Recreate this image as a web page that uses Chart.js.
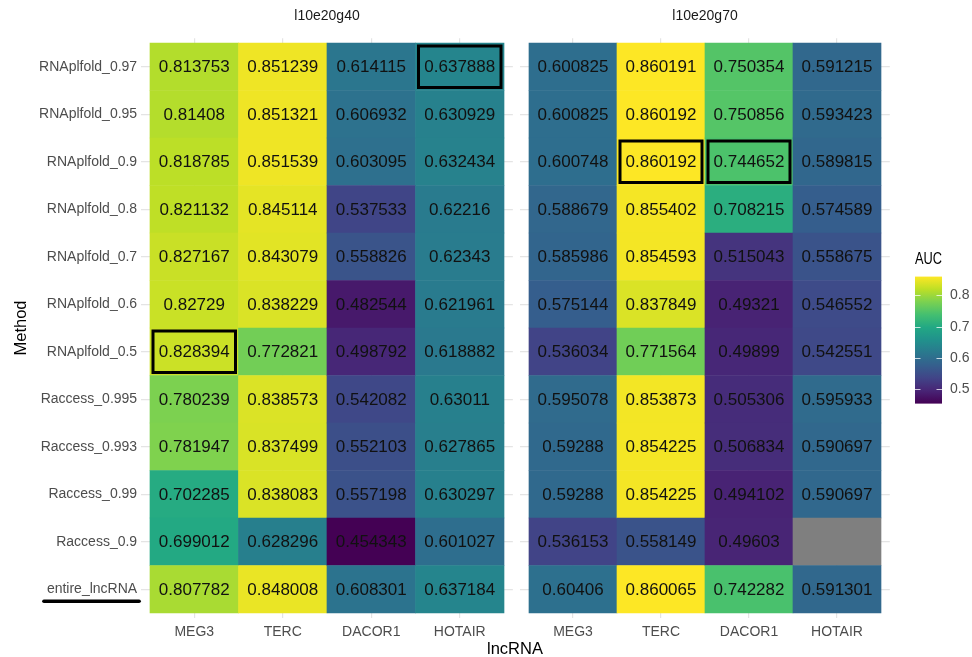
<!DOCTYPE html>
<html>
<head>
<meta charset="utf-8">
<script src="https://cdn.jsdelivr.net/npm/chart.js@4.4.1/dist/chart.umd.min.js"></script>
<style>
  body { margin: 0; background: #fff; }
  #wrap { position: relative; width: 972px; height: 657px; overflow: hidden; background: #fff; }
  canvas { position: absolute; }
  #xtitle {
    position: absolute; left: 415px; width: 200px; top: 639px; text-align: center;
    font: 16.5px "Liberation Sans", Arial, sans-serif; color: #000;
  }
</style>
</head>
<body>
<div id="wrap">
  <canvas id="g40" width="515" height="657" style="left:0;top:0"></canvas>
  <canvas id="g70" width="380" height="657" style="left:515px;top:0"></canvas>
  <canvas id="auc" width="77" height="175" style="left:895px;top:245px"></canvas>
  <div id="xtitle">lncRNA</div>
</div>
<script>
const lncRNAs = ['MEG3', 'TERC', 'DACOR1', 'HOTAIR'];
const methods = ['RNAplfold_0.97', 'RNAplfold_0.95', 'RNAplfold_0.9', 'RNAplfold_0.8',
  'RNAplfold_0.7', 'RNAplfold_0.6', 'RNAplfold_0.5', 'Raccess_0.995', 'Raccess_0.993',
  'Raccess_0.99', 'Raccess_0.9', 'entire_lncRNA'];

// l10e20g40, one array per lncRNA, in the order of methods
const g40_MEG3   = [0.813753, 0.81408, 0.818785, 0.821132, 0.827167, 0.82729, 0.828394, 0.780239, 0.781947, 0.702285, 0.699012, 0.807782];
const g40_TERC   = [0.851239, 0.851321, 0.851539, 0.845114, 0.843079, 0.838229, 0.772821, 0.838573, 0.837499, 0.838083, 0.628296, 0.848008];
const g40_DACOR1 = [0.614115, 0.606932, 0.603095, 0.537533, 0.558826, 0.482544, 0.498792, 0.542082, 0.552103, 0.557198, 0.454343, 0.608301];
const g40_HOTAIR = [0.637888, 0.630929, 0.632434, 0.62216, 0.62343, 0.621961, 0.618882, 0.63011, 0.627865, 0.630297, 0.601027, 0.637184];

// l10e20g70
const g70_MEG3   = [0.600825, 0.600825, 0.600748, 0.588679, 0.585986, 0.575144, 0.536034, 0.595078, 0.59288, 0.59288, 0.536153, 0.60406];
const g70_TERC   = [0.860191, 0.860192, 0.860192, 0.855402, 0.854593, 0.837849, 0.771564, 0.853873, 0.854225, 0.854225, 0.558149, 0.860065];
const g70_DACOR1 = [0.750354, 0.750856, 0.744652, 0.708215, 0.515043, 0.49321, 0.49899, 0.505306, 0.506834, 0.494102, 0.49603, 0.742282];
const g70_HOTAIR = [0.591215, 0.593423, 0.589815, 0.574589, 0.558675, 0.546552, 0.542551, 0.595933, 0.590697, 0.590697, null, 0.591301];

// cells with a black frame
const g40Boxes = [['HOTAIR', 'RNAplfold_0.97'], ['MEG3', 'RNAplfold_0.5']];
const g70Boxes = [['TERC', 'RNAplfold_0.9'], ['DACOR1', 'RNAplfold_0.9']];
const underlined = 'entire_lncRNA';

const legendTicks = [0.5, 0.6, 0.7, 0.8];

const FONT = '"Liberation Sans", Arial, Helvetica, sans-serif';
const NA_COLOR = '#7f7f7f';
const GRID = '#e4e4e4';
const VIRIDIS = ['#440154', '#482475', '#414487', '#355f8d', '#2a788e', '#21918c',
  '#22a884', '#44bf70', '#7ad151', '#bddf26', '#fde725'];

const allValues = [g40_MEG3, g40_TERC, g40_DACOR1, g40_HOTAIR, g70_MEG3, g70_TERC, g70_DACOR1, g70_HOTAIR]
  .flat().filter(v => v !== null);
const aucMin = Math.min(...allValues);
const aucMax = Math.max(...allValues);

function hexToRgb(h) {
  return [1, 3, 5].map(i => parseInt(h.substr(i, 2), 16));
}

function viridis(v) {
  let t = (v - aucMin) / (aucMax - aucMin);
  t = Math.max(0, Math.min(1, t)) * (VIRIDIS.length - 1);
  const i = Math.min(Math.floor(t), VIRIDIS.length - 2);
  const f = t - i;
  const a = hexToRgb(VIRIDIS[i]), b = hexToRgb(VIRIDIS[i + 1]);
  const c = a.map((x, k) => Math.round(x + (b[k] - x) * f));
  return `rgb(${c[0]},${c[1]},${c[2]})`;
}

function makePanel(canvasId, title, columns, boxes, opts) {
  const data = [];
  const colors = [];
  columns.forEach((col, c) => {
    col.forEach((v, r) => {
      data.push({ x: c, y: [r - 0.5, r + 0.5], v: v, rna: lncRNAs[c], m: methods[r] });
      colors.push(v === null ? NA_COLOR : viridis(v));
    });
  });

  const cellText = {
    id: 'cellText',
    afterDatasetsDraw(chart) {
      const ctx = chart.ctx;
      const meta = chart.getDatasetMeta(0);
      ctx.save();
      ctx.font = '17px ' + FONT;
      ctx.fillStyle = '#111';
      ctx.textAlign = 'center';
      ctx.textBaseline = 'middle';
      meta.data.forEach((bar, i) => {
        const d = data[i];
        if (d.v === null) return;
        ctx.fillText(String(d.v), bar.x, (bar.y + bar.base) / 2 + 1);
      });
      ctx.lineWidth = 3;
      ctx.strokeStyle = '#000';
      boxes.forEach(([rna, m]) => {
        const i = data.findIndex(d => d.rna === rna && d.m === m);
        const bar = meta.data[i];
        const top = Math.min(bar.y, bar.base);
        const h = Math.abs(bar.base - bar.y);
        ctx.strokeRect(bar.x - bar.width / 2 + 3, top + 3, bar.width - 6, h - 6);
      });
      ctx.restore();
    },
    afterDraw(chart) {
      if (!opts.showY) return;
      // underline below the "entire_lncRNA" label
      const y = chart.scales.y;
      const ctx = chart.ctx;
      ctx.save();
      ctx.font = '14px ' + FONT;
      const w = ctx.measureText(underlined).width;
      const right = y.right - 4;
      const py = y.getPixelForValue(methods.indexOf(underlined)) + 12;
      ctx.strokeStyle = '#000';
      ctx.lineWidth = 3.5;
      ctx.lineCap = 'round';
      ctx.beginPath();
      ctx.moveTo(right - w - 3, py);
      ctx.lineTo(right + 2, py);
      ctx.stroke();
      ctx.restore();
    }
  };

  return new Chart(document.getElementById(canvasId), {
    type: 'bar',
    data: {
      datasets: [{
        data: data,
        backgroundColor: colors,
        borderWidth: 0,
        barPercentage: 1,
        categoryPercentage: 1
      }]
    },
    options: {
      responsive: false,
      animation: false,
      devicePixelRatio: 1,
      layout: { padding: opts.padding },
      plugins: {
        legend: { display: false },
        tooltip: { enabled: false },
        title: {
          display: true,
          text: title,
          fullSize: false,
          color: '#1a1a1a',
          font: { family: FONT, size: 14, weight: 'normal' },
          padding: { top: 8, bottom: 13.45 }
        }
      },
      scales: {
        x: {
          type: 'linear',
          min: -0.6,
          max: 3.6,
          offset: false,
          afterBuildTicks: s => { s.ticks = lncRNAs.map((_, i) => ({ value: i })); },
          afterFit: s => { s.height = 39.25; },
          grid: { color: GRID, lineWidth: 1.2, drawTicks: false, offset: false },
          border: { display: false },
          ticks: {
            callback: v => lncRNAs[v],
            autoSkip: false,
            maxRotation: 0,
            padding: 6,
            color: '#4d4d4d',
            font: { family: FONT, size: 14 }
          }
        },
        y: {
          type: 'linear',
          reverse: true,
          min: -0.6,
          max: 11.6,
          afterBuildTicks: s => { s.ticks = methods.map((_, i) => ({ value: i })); },
          afterFit: s => { s.width = opts.yWidth; },
          grid: { color: GRID, lineWidth: 1.2, drawTicks: false },
          border: { display: false },
          title: {
            display: opts.showY,
            text: 'Method',
            color: '#000',
            font: { family: FONT, size: 16.5 },
            padding: { top: 12, bottom: 0 }
          },
          ticks: {
            display: opts.showY,
            callback: v => methods[v],
            autoSkip: false,
            padding: 4,
            color: '#4d4d4d',
            font: { family: FONT, size: 14 }
          }
        }
      }
    },
    plugins: [cellText]
  });
}

makePanel('g40', 'l10e20g40', [g40_MEG3, g40_TERC, g40_DACOR1, g40_HOTAIR], g40Boxes,
  { showY: true, yWidth: 141.15, padding: { left: 0, right: 2.15, top: 0, bottom: 0 } });
makePanel('g70', 'l10e20g70', [g70_MEG3, g70_TERC, g70_DACOR1, g70_HOTAIR], g70Boxes,
  { showY: false, yWidth: 0, padding: { left: 5.2, right: 5.2, top: 0, bottom: 0 } });

// colour bar legend
const colorBar = {
  id: 'colorBar',
  beforeDatasetsDraw(chart) {
    const { ctx, chartArea: a } = chart;
    const y = chart.scales.y;
    const top = y.getPixelForValue(aucMax);
    const bot = y.getPixelForValue(aucMin);
    const g = ctx.createLinearGradient(0, bot, 0, top);
    VIRIDIS.forEach((c, i) => g.addColorStop(i / (VIRIDIS.length - 1), c));
    ctx.save();
    ctx.fillStyle = g;
    ctx.fillRect(a.left, top, a.right - a.left, bot - top);
    ctx.strokeStyle = 'rgba(255,255,255,0.75)';
    ctx.lineWidth = 1;
    y.ticks.forEach(t => {
      const p = Math.round(y.getPixelForValue(t.value)) + 0.5;
      ctx.beginPath();
      ctx.moveTo(a.left, p); ctx.lineTo(a.left + 5.5, p);
      ctx.moveTo(a.right - 5.5, p); ctx.lineTo(a.right, p);
      ctx.stroke();
    });
    ctx.restore();
  }
};

new Chart(document.getElementById('auc'), {
  type: 'scatter',
  data: { datasets: [] },
  options: {
    responsive: false,
    animation: false,
    devicePixelRatio: 1,
    layout: { padding: { left: 20, right: 0, top: 0, bottom: 13.4 } },
    plugins: {
      legend: { display: false },
      tooltip: { enabled: false },
      title: {
        display: true,
        text: 'AUC',
        align: 'start',
        fullSize: false,
        color: '#000',
        font: { family: FONT, size: 16.5, weight: 'normal' },
        padding: { top: 4.1, bottom: 7.7 }
      }
    },
    scales: {
      x: { display: false, min: 0, max: 1 },
      y: {
        position: 'right',
        min: aucMin,
        max: aucMax,
        afterBuildTicks: s => { s.ticks = legendTicks.map(v => ({ value: v })); },
        afterFit: s => { s.width = 30; },
        grid: { display: false, drawTicks: false },
        border: { display: false },
        ticks: {
          callback: v => v.toFixed(1),
          padding: 8,
          color: '#4d4d4d',
          font: { family: FONT, size: 14 }
        }
      }
    }
  },
  plugins: [colorBar]
});
</script>
</body>
</html>
